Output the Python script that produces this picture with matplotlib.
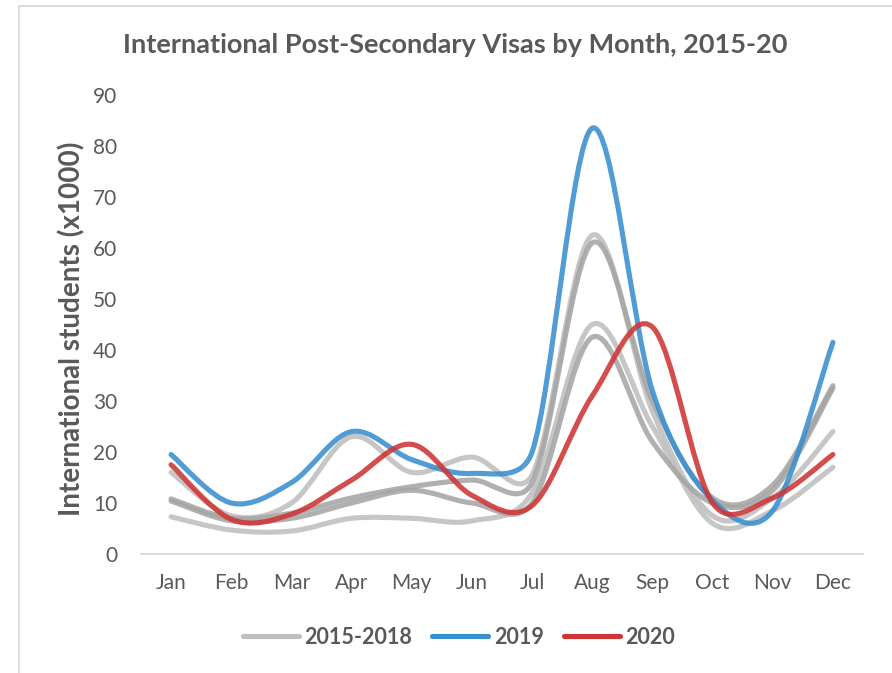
import matplotlib
matplotlib.use("Agg")
import matplotlib.pyplot as plt
from matplotlib.path import Path
from matplotlib.patches import PathPatch, Rectangle
from matplotlib.lines import Line2D
import numpy as np

months = ['Jan', 'Feb', 'Mar', 'Apr', 'May', 'Jun', 'Jul', 'Aug', 'Sep', 'Oct', 'Nov', 'Dec']

# 2015-2018 (four years, grey)
yr_a = [16.0, 7.5, 10.0, 23.0, 16.0, 19.0, 15.5, 62.5, 28.0, 7.5, 11.0, 24.0]
yr_b = [10.8, 7.0, 8.0, 11.0, 13.2, 14.5, 14.0, 61.0, 30.0, 11.0, 13.5, 33.0]
yr_c = [7.3, 4.7, 4.5, 7.0, 7.0, 6.5, 12.0, 45.0, 25.0, 6.0, 8.5, 17.0]
yr_d = [10.4, 6.5, 7.0, 10.0, 12.5, 10.0, 10.0, 42.5, 22.0, 10.0, 12.5, 32.5]
y2019 = [19.5, 10.0, 14.0, 24.0, 18.5, 15.8, 20.0, 83.5, 32.0, 10.5, 8.5, 41.5]
y2020 = [17.5, 6.8, 7.8, 14.5, 21.5, 11.5, 9.5, 31.0, 44.5, 10.0, 11.0, 19.5]

yticks = [0, 10, 20, 30, 40, 50, 60, 70, 80, 90]

W, H = 892, 673
fig = plt.figure(figsize=(W / 100, H / 100), dpi=100)
FONT = 'Lato'
TXT = '#595959'

ax = fig.add_axes([141 / W, 1 - 554 / H, (863 - 141) / W, (554 - 95) / H])
x = np.arange(len(months))
ax.set_xlim(-0.5, len(months) - 0.5)
ax.set_ylim(0, 90)


def smooth_path(xs, ys):
    """Excel-style smoothed line: Bezier arms of length |P(i+1)-P(i-1)|/6,
    capped at half of the segment length (measured on screen)."""
    data = np.column_stack([np.asarray(xs, float), np.asarray(ys, float)])
    scr = ax.transData.transform(data)
    inv = ax.transData.inverted()
    n = len(scr)

    verts = [data[0]]
    codes = [Path.MOVETO]
    for i in range(n - 1):
        i0 = max(i - 1, 0)
        i3 = min(i + 2, n - 1)
        p1, p2 = scr[i], scr[i + 1]
        d12 = np.hypot(*(p2 - p1))
        t1 = scr[i + 1] - scr[i0]
        t2 = scr[i3] - scr[i]
        n1 = np.hypot(*t1)
        n2 = np.hypot(*t2)
        a1 = min(n1 / 6.0, d12 / 2.0)
        a2 = min(n2 / 6.0, d12 / 2.0)
        c1 = p1 + (t1 / n1 * a1 if n1 > 0 else 0)
        c2 = p2 - (t2 / n2 * a2 if n2 > 0 else 0)
        verts += [inv.transform(c1), inv.transform(c2), data[i + 1]]
        codes += [Path.CURVE4] * 3
    return Path(verts, codes)


LW = 3.7
series = [
    (yr_a, '#BFBFBF'),
    (yr_c, '#BFBFBF'),
    (yr_b, '#A5A5A5'),
    (yr_d, '#A5A5A5'),
    (y2019, '#3A8FD0'),
    (y2020, '#CF3434'),
]
for vals, col in series:
    patch = PathPatch(smooth_path(x, vals), facecolor='none', edgecolor=col,
                      lw=LW, alpha=0.88, capstyle='round', joinstyle='round')
    ax.add_patch(patch)

ax.set_xticks(x)
ax.set_xticklabels(months)
ax.set_yticks(yticks)
for s in ['top', 'right', 'left']:
    ax.spines[s].set_visible(False)
ax.spines['bottom'].set_color('#D9D9D9')
ax.spines['bottom'].set_linewidth(1.3)
ax.tick_params(axis='both', length=0, labelsize=15, labelcolor=TXT)
ax.tick_params(axis='y', pad=17)
ax.tick_params(axis='x', pad=14)
for lab in ax.get_xticklabels() + ax.get_yticklabels():
    lab.set_fontfamily(FONT)

fig.text(455 / W, 1 - 45 / H, 'International Post-Secondary Visas by Month, 2015-20',
         ha='center', va='center', fontsize=19.5, fontweight='bold', color=TXT, family=FONT)
fig.text(72 / W, 1 - 329 / H, 'International students (x1000)', rotation=90,
         ha='center', va='center', fontsize=20, fontweight='bold', color=TXT, family=FONT)

handles = [Line2D([], [], color='#BFBFBF', lw=LW, solid_capstyle='round'),
           Line2D([], [], color='#3A8FD0', lw=LW, solid_capstyle='round'),
           Line2D([], [], color='#CF3434', lw=LW, solid_capstyle='round')]
leg = fig.legend(handles, ['2015-2018', '2019', '2020'], loc='center',
                 bbox_to_anchor=(459 / W, 1 - 637 / H), ncol=3, frameon=False,
                 handlelength=2.6, handletextpad=0.25, columnspacing=0.95,
                 prop={'family': FONT, 'weight': 'bold', 'size': 15.5})
for t in leg.get_texts():
    t.set_color(TXT)

fig.patches.append(Rectangle((19 / W, -0.05), 1.2, 1 - 6 / H + 0.05, transform=fig.transFigure,
                             fill=False, edgecolor='#D9D9D9', lw=1.3))

fig.savefig('out.png', dpi=100)
